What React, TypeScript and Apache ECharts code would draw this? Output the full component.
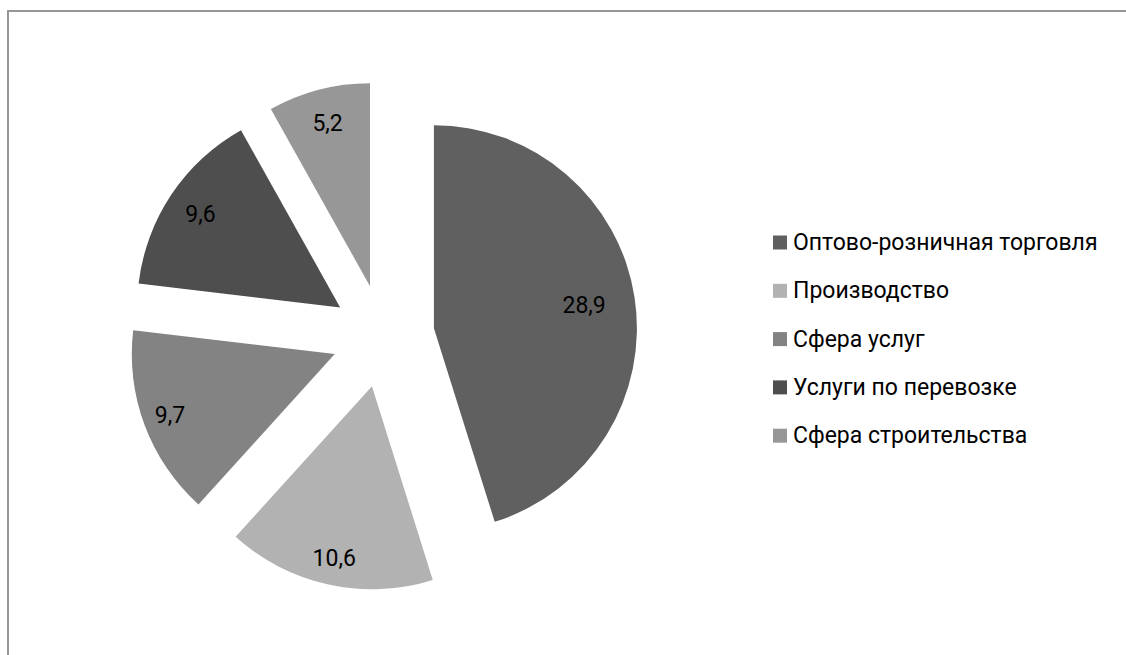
import React, { useEffect, useRef } from "react";
import * as echarts from "echarts";

const categories = [
  "Оптово-розничная торговля",
  "Производство",
  "Сфера услуг",
  "Услуги по перевозке",
  "Сфера строительства",
];
const values = [28.9, 10.6, 9.7, 9.6, 5.2];
const colors = ["#606060", "#b2b2b2", "#838383", "#4e4e4e", "#979797"];
// radial distance of each value label from its slice's tip
const labelDistances = [152, 176, 176, 168, 168];

const FONT = "Roboto, 'Noto Sans', sans-serif";
const CENTER = [383, 336];
const RADIUS = 203;
const OFFSET = 51.5;

const fmt = (v: number) => String(v).replace(".", ",");

export default function App() {
  const ref = useRef<HTMLDivElement>(null);
  useEffect(() => {
    if (!ref.current) return;
    const chart = echarts.init(ref.current, undefined, { renderer: "svg" });
    const mainSeries: any = {
      type: "pie",
      center: CENTER,
      radius: [0, RADIUS],
      startAngle: 90,
      clockwise: true,
      selectedMode: "multiple",
      selectedOffset: OFFSET,
      silent: true,
      emphasis: { disabled: true },
      label: { show: false },
      labelLine: { show: false },
      data: categories.map((n, i) => ({
        name: n,
        value: values[i],
        selected: true,
        itemStyle: { color: colors[i] },
      })),
    };
    const labelSeries = categories.map((_, i) => ({
      type: "pie",
      center: CENTER,
      radius: [labelDistances[i] - 4, labelDistances[i] - 2],
      startAngle: 90,
      clockwise: true,
      selectedMode: "multiple",
      selectedOffset: OFFSET,
      silent: true,
      legendHoverLink: false,
      emphasis: { disabled: true },
      labelLine: { show: false },
      data: categories.map((n, j) => ({
        name: n,
        value: values[j],
        selected: true,
        itemStyle: { color: "rgba(0,0,0,0)" },
        label: {
          show: j === i,
          position: "inside",
          formatter: fmt(values[j]),
          fontSize: 23,
          fontFamily: FONT,
          color: "#000",
          offset: [0, 3],
        },
      })),
    }));
    chart.setOption({
      animation: false,
      color: colors,
      legend: {
        orient: "vertical",
        left: 768,
        top: 226,
        icon: "rect",
        itemWidth: 14,
        itemHeight: 14,
        itemGap: 25.3,
        selectedMode: false,
        data: categories,
        textStyle: {
          fontSize: 23,
          fontFamily: FONT,
          color: "#000",
          padding: [0, 0, 0, 1],
        },
      },
      graphic: [
        {
          type: "rect",
          shape: { x: 8, y: 11, width: 1200, height: 700 },
          style: { fill: "none", stroke: "#969696", lineWidth: 2 },
          silent: true,
        },
      ],
      series: [mainSeries, ...labelSeries],
    });
    return () => chart.dispose();
  }, []);
  return (
    <div
      ref={ref}
      style={{ position: "absolute", left: 0, top: 0, width: 1126, height: 655 }}
    />
  );
}
